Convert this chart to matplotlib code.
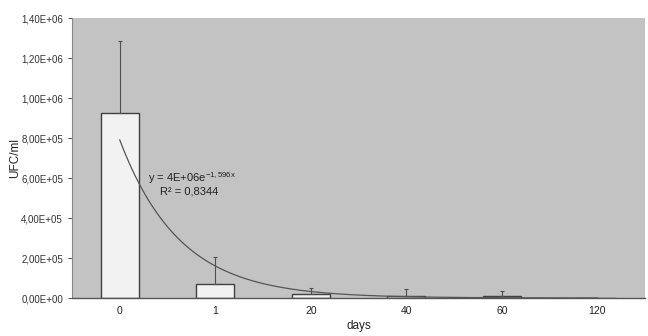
import numpy as np
import matplotlib
matplotlib.use("Agg")
import matplotlib.pyplot as plt
from matplotlib.ticker import FuncFormatter, FixedLocator

categories = ["0", "1", "20", "40", "60", "120"]
means = [925000, 70000, 20000, 10000, 8000, 2000]
errors = [360000, 135000, 30000, 35000, 27000, 0]
trend_a = 3.9e6
trend_b = 1.596
yticks = [0, 2e5, 4e5, 6e5, 8e5, 1e6, 1.2e6, 1.4e6]

plt.rcParams['font.family'] = ['Liberation Sans', 'DejaVu Sans']
plt.rcParams['mathtext.fontset'] = 'custom'
plt.rcParams['mathtext.rm'] = 'Liberation Sans'
plt.rcParams['mathtext.it'] = 'Liberation Sans'
fig = plt.figure(figsize=(6.48, 3.36), dpi=100)
ax = fig.add_axes([72/648, 1 - 298/336, (645-72)/648, (298-18)/336])
ax.set_facecolor('#c3c3c3')

x = np.arange(len(categories))
yerr = [np.zeros(len(errors)), errors]
ax.bar(x, means, width=0.4, color='#f2f2f2', edgecolor='#404040', linewidth=1.0,
       yerr=yerr, error_kw=dict(ecolor='#505050', elinewidth=0.8, capsize=1.5, capthick=0.8), zorder=2)

xt = np.linspace(0, 5, 300)
ax.plot(xt, trend_a * np.exp(-trend_b * (xt + 1)), color='#555555', linewidth=0.9, zorder=3)

ax.text(0.3, 6.0e5, r"y = 4E+06e$^{\mathrm{-1,596x}}$", fontsize=8, color='#222222', va='center')
ax.text(0.42, 5.3e5, "R² = 0,8344", fontsize=8, color='#222222', va='center')

ax.set_xlim(-0.5, 5.5)
ax.set_ylim(0, 1.4e6)
ax.yaxis.set_major_locator(FixedLocator(yticks))
ax.yaxis.set_major_formatter(FuncFormatter(lambda v, p: ("%.2E" % v).replace('.', ',')))
ax.set_xticks(x)
ax.set_xticklabels(categories)
ax.tick_params(axis='y', labelsize=7, colors='#333333', length=3, width=0.6, direction='out')
ax.tick_params(axis='x', labelsize=7.5, colors='#222222', length=0, pad=6)

for s in ['top', 'right']:
    ax.spines[s].set_visible(False)
ax.spines['left'].set_color('#888888')
ax.spines['left'].set_linewidth(0.8)
ax.spines['bottom'].set_color('#555555')
ax.spines['bottom'].set_linewidth(1.0)

ax.set_ylabel("UFC/ml", fontsize=8.5, color='#222222')
ax.yaxis.set_label_coords(-(72 - 21) / (645 - 72), 0.5)
ax.set_xlabel("days", fontsize=8.5, color='#222222', labelpad=3)

fig.savefig("out.png", dpi=100, facecolor='white')
